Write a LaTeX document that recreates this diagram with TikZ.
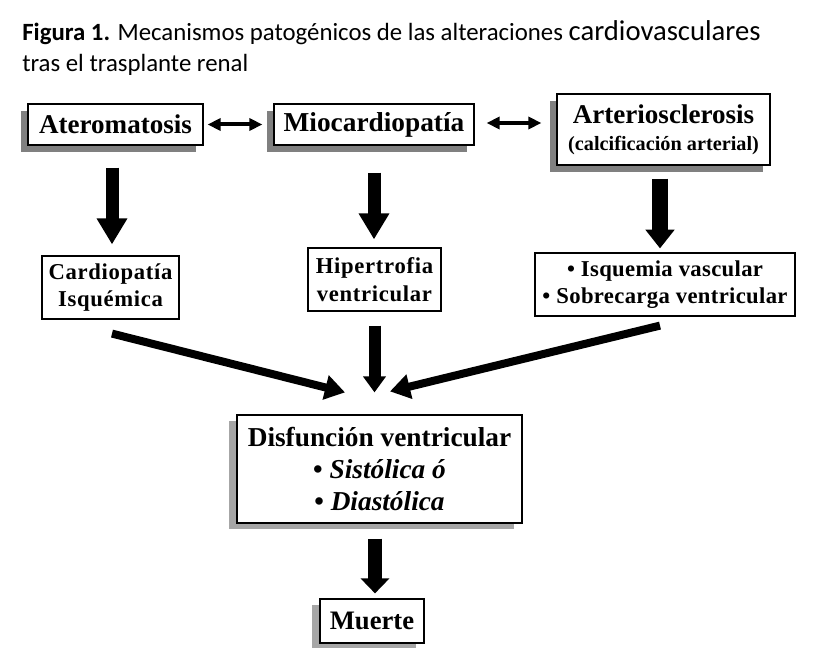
\documentclass[tikz,border=0pt]{standalone}
\usepackage{fontspec}
\setmainfont{Liberation Serif}
\newfontfamily\titlefont{Carlito}
\usetikzlibrary{arrows.meta,shadows,calc}
\tikzset{
  box/.style={draw=black, line width=0.9pt, fill=white, inner sep=0pt, align=center,
    font=\bfseries},
  topshadow/.style={drop shadow={shadow xshift=-5.25pt, shadow yshift=-5.25pt, fill=black!50, opacity=1}},
  lowshadow/.style={drop shadow={shadow xshift=-6pt, shadow yshift=-4.5pt, fill=black!35, opacity=1}},
  bigarrow/.style={line width=9.75pt, -{Triangle[width=21.75pt, length=19.5pt]}},
  midarrow/.style={line width=9pt, -{Triangle[width=16.5pt, length=12pt]}},
  diagarrow/.style={line width=6pt, -{Triangle[width=18pt, length=15pt]}},
  botarrow/.style={line width=10.5pt, -{Triangle[width=21pt, length=11.25pt]}},
  dblarrow/.style={line width=3pt, {Triangle[width=9pt, length=9.75pt]}-{Triangle[width=9pt, length=9.75pt]}},
}
\begin{document}
\begin{tikzpicture}[x=0.75pt, y=-0.75pt]
\useasboundingbox (0,0) rectangle (832,648);
\fill[white] (0,0) rectangle (832,648);

% title
\node[anchor=base west, inner sep=0pt, font=\titlefont\fontsize{18.6}{22}\selectfont] (title1) at (22,41)
  {\textbf{Figura 1.} Mecanismos patogénicos de las alteraciones {\fontsize{21.5}{22}\selectfont cardiovasculares}};
\node[anchor=base west, inner sep=0pt, font=\titlefont\fontsize{18.6}{22}\selectfont] (title2) at (22,72)
  {tras el trasplante renal};

% top row
\node[box, topshadow, minimum width=131.25pt, minimum height=30.75pt, font=\bfseries\fontsize{20.3}{24}\selectfont] (atero) at (115.5,124.5) {Ateromatosis};
\node[box, topshadow, minimum width=150pt, minimum height=30.75pt, font=\bfseries\fontsize{20.5}{24}\selectfont] (mio) at (374,124.5) {Miocardiopatía};
\node[box, topshadow, minimum width=159.75pt, minimum height=53.25pt, font=\bfseries\fontsize{20.3}{20.25}\selectfont] (arterio) at (663.5,129.5)
  {Arteriosclerosis\\{\fontsize{15.2}{20.25}\selectfont (calcificación arterial)}};

% middle row
\node[box, minimum width=102.75pt, minimum height=47.25pt, font=\bfseries\fontsize{17}{20.5}\selectfont\addfontfeature{LetterSpace=3}] (cardio) at (110.5,287.5) {Cardiopatía\\Isquémica};
\node[box, minimum width=99.75pt, minimum height=47.25pt, font=\bfseries\fontsize{17}{20.5}\selectfont\addfontfeature{LetterSpace=3}] (hiper) at (374.5,279.5) {Hipertrofia\\ventricular};
\node[box, minimum width=195pt, minimum height=47.25pt, font=\bfseries\fontsize{17}{20.5}\selectfont\addfontfeature{LetterSpace=1.5}] (isq) at (665,284.5) {• Isquemia vascular\\• Sobrecarga ventricular};

% lower boxes
\node[box, lowshadow, minimum width=213.75pt, minimum height=81pt, font=\bfseries\fontsize{20.5}{24}\selectfont] (disf) at (379.5,469)
  {Disfunción ventricular\\• \textit{Sistólica ó}\\• \textit{Diastólica}};
\node[box, lowshadow, minimum width=78pt, minimum height=33pt, font=\bfseries\fontsize{20}{24}\selectfont] (muerte) at (372,621) {Muerte};

% double arrows
\draw[dblarrow, shorten <=3pt, shorten >=8.25pt] (atero.east) -- (mio.west);
\draw[dblarrow, shorten <=9pt, shorten >=11.25pt] ($(mio.east)+(0,-1.5)$) -- ($(mio.east -| arterio.west)+(0,-1.5)$);

% down arrows
\draw[bigarrow, shorten <=16.5pt, shorten >=8.25pt] ($(atero.south -| cardio.north)+(1.5,0)$) -- ($(cardio.north)+(1.5,0)$);
\draw[bigarrow, shorten <=20.25pt, shorten >=6pt] (mio.south) -- (mio.south |- hiper.north);
\draw[line width=12pt, -{Triangle[width=21pt, length=14pt]}, shorten <=9.75pt, shorten >=3pt] ($(arterio.south)+(-3.5,0)$) -- ($(arterio.south |- isq.north)+(-3.5,0)$);

% converging arrows
\draw[diagarrow] ($(cardio.south)+(1.5,14)$) -- ($(disf.north)+(-34.5,-22)$);
\draw[midarrow, shorten <=10.5pt, shorten >=16.5pt] (hiper.south) -- (hiper.south |- disf.north);
\draw[diagarrow] ($(isq.south)+(-5,9)$) -- ($(disf.north)+(10.5,-23)$);

% bottom arrow
\draw[botarrow, shorten <=11.25pt, shorten >=3.75pt] ($(disf.south -| muerte.north)+(3,0)$) -- ($(muerte.north)+(3,0)$);
\end{tikzpicture}
\end{document}
